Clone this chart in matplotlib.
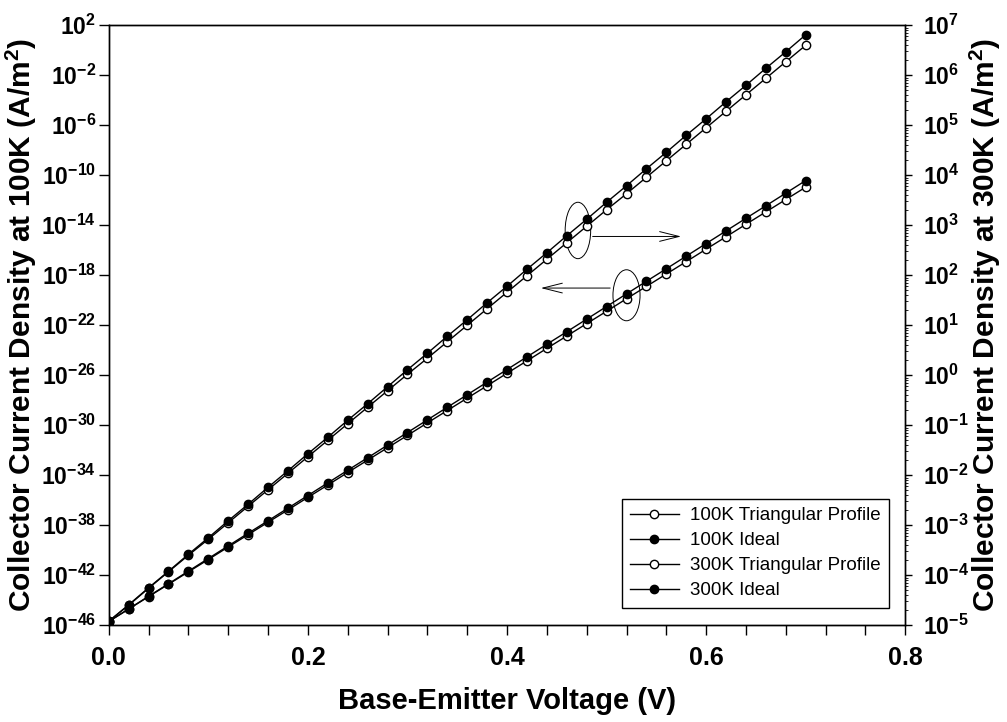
import numpy as np
import matplotlib
matplotlib.use('Agg')
import matplotlib.pyplot as plt
from matplotlib.ticker import FixedLocator, NullLocator, MultipleLocator, LogLocator, FuncFormatter
from matplotlib.patches import Ellipse

plt.rcParams['font.family'] = ['Liberation Sans', 'DejaVu Sans']
plt.rcParams['mathtext.fontset'] = 'custom'
plt.rcParams['mathtext.rm'] = 'Liberation Sans'
plt.rcParams['mathtext.bf'] = 'Liberation Sans:bold'
plt.rcParams['mathtext.it'] = 'Liberation Sans:italic'

# ---- data (base-emitter voltage, V) ----
vbe = [0.00, 0.02, 0.04, 0.06, 0.08, 0.10, 0.12, 0.14, 0.16, 0.18,
       0.20, 0.22, 0.24, 0.26, 0.28, 0.30, 0.32, 0.34, 0.36, 0.38,
       0.40, 0.42, 0.44, 0.46, 0.48, 0.50, 0.52, 0.54, 0.56, 0.58,
       0.60, 0.62, 0.64, 0.66, 0.68, 0.70]

# log10 of collector current density (A/m^2)
log_j100_tri = [-45.70, -44.71, -43.71, -42.72, -41.73, -40.74, -39.74, -38.75, -37.76, -36.77,
                -35.77, -34.78, -33.78, -32.79, -31.80, -30.81, -29.81, -28.82, -27.83, -26.84,
                -25.84, -24.85, -23.85, -22.86, -21.87, -20.88, -19.88, -18.89, -17.90, -16.91,
                -15.91, -14.92, -13.92, -12.93, -11.94, -10.95]
log_j100_ideal = [-45.70, -44.69, -43.68, -42.68, -41.67, -40.66, -39.65, -38.64, -37.64, -36.63,
                  -35.62, -34.61, -33.60, -32.60, -31.59, -30.58, -29.57, -28.56, -27.56, -26.55,
                  -25.54, -24.53, -23.52, -22.52, -21.51, -20.50, -19.49, -18.48, -17.48, -16.47,
                  -15.46, -14.45, -13.44, -12.44, -11.43, -10.42]
log_j300_tri = [-4.92, -4.60, -4.26, -3.93, -3.60, -3.28, -2.95, -2.62, -2.29, -1.96,
                -1.63, -1.30, -0.97, -0.64, -0.31, 0.02, 0.34, 0.67, 1.00, 1.33,
                1.66, 1.99, 2.32, 2.65, 2.98, 3.31, 3.63, 3.96, 4.29, 4.62,
                4.95, 5.28, 5.61, 5.94, 6.27, 6.60]
log_j300_ideal = [-4.92, -4.59, -4.25, -3.92, -3.58, -3.25, -2.91, -2.58, -2.24, -1.91,
                  -1.57, -1.24, -0.90, -0.57, -0.23, 0.11, 0.44, 0.78, 1.11, 1.45,
                  1.78, 2.12, 2.45, 2.79, 3.12, 3.46, 3.79, 4.13, 4.46, 4.80,
                  5.13, 5.47, 5.80, 6.14, 6.47, 6.81]

labels = ['100K Triangular Profile', '100K Ideal', '300K Triangular Profile', '300K Ideal']
left_exps = list(range(-46, 3, 4))
right_exps = list(range(-5, 8))
x_ticks = [0.0, 0.2, 0.4, 0.6, 0.8]

v = np.array(vbe)
j100_tri = 10.0 ** np.array(log_j100_tri)
j100_ideal = 10.0 ** np.array(log_j100_ideal)
j300_tri = 10.0 ** np.array(log_j300_tri)
j300_ideal = 10.0 ** np.array(log_j300_ideal)

fig = plt.figure(figsize=(10.07, 7.22), dpi=100)
ax = fig.add_axes([0.108, 0.134, 0.791, 0.831])
ax2 = ax.twinx()

ms = 6.0
lw = 1.0
open_kw = dict(color='black', lw=lw, marker='o', ms=ms, mfc='white', mec='black', mew=1.0)
fill_kw = dict(color='black', lw=lw, marker='o', ms=ms, mfc='black', mec='black', mew=1.0)

h1, = ax.plot(v, j100_tri, label=labels[0], **open_kw)
h2, = ax.plot(v, j100_ideal, label=labels[1], **fill_kw)
h3, = ax2.plot(v, j300_tri, label=labels[2], **open_kw)
h4, = ax2.plot(v, j300_ideal, label=labels[3], **fill_kw)

ax.set_yscale('log')
ax2.set_yscale('log')
ax.set_xlim(0.0, 0.8)
ax.set_ylim(10.0 ** left_exps[0], 10.0 ** left_exps[-1])
ax2.set_ylim(10.0 ** right_exps[0], 10.0 ** right_exps[-1])

def pow_fmt(val, pos):
    e = int(round(np.log10(val)))
    return r'$\mathbf{10^{%d}}$' % e

ax.yaxis.set_major_locator(FixedLocator([10.0 ** e for e in left_exps]))
ax.yaxis.set_minor_locator(NullLocator())
ax.yaxis.set_major_formatter(FuncFormatter(pow_fmt))
ax2.yaxis.set_major_locator(FixedLocator([10.0 ** e for e in right_exps]))
ax2.yaxis.set_minor_locator(LogLocator(base=10, subs=np.arange(2, 10), numticks=100))
ax2.yaxis.set_major_formatter(FuncFormatter(pow_fmt))
ax2.yaxis.set_minor_formatter(FuncFormatter(lambda v_, p: ''))

ax.xaxis.set_major_locator(FixedLocator(x_ticks))
ax.xaxis.set_minor_locator(MultipleLocator(0.04))
ax.set_xticklabels(['%.1f' % t for t in x_ticks], fontsize=18, fontweight='bold')

ax.tick_params(axis='x', which='both', direction='out', length=7, width=1, pad=8, top=False)
ax.tick_params(axis='y', which='major', direction='out', length=7, width=1, labelsize=16.5, pad=2)
ax2.tick_params(axis='y', which='major', direction='out', length=5, width=1, labelsize=16.5, pad=8)
ax2.tick_params(axis='y', which='minor', direction='out', length=2.5, width=0.6)

for a in (ax, ax2):
    for s in a.spines.values():
        s.set_linewidth(1.0)
        s.set_color('black')

ax.set_xlabel('Base-Emitter Voltage (V)', fontsize=21, fontweight='bold', labelpad=12)
ax.set_ylabel(r'Collector Current Density at 100K (A/m$^\mathbf{2}$)', fontsize=21.5,
              fontweight='bold')
ax2.set_ylabel(r'Collector Current Density at 300K (A/m$^\mathbf{2}$)', fontsize=21.5,
               fontweight='bold')
ax.yaxis.set_label_coords(-0.088, 0.5)
ax2.yaxis.set_label_coords(1.078, 0.5)

# annotations: ellipses and arrows (axes-fraction coordinates)
e1 = Ellipse((0.589, 0.658), 0.032, 0.094, transform=ax.transAxes, fill=False,
             ec='black', lw=0.7)
e2 = Ellipse((0.650, 0.550), 0.034, 0.085, transform=ax.transAxes, fill=False,
             ec='black', lw=0.7)
ax2.add_patch(e1)
ax2.add_patch(e2)
ax2.annotate('', xy=(0.722, 0.648), xytext=(0.604, 0.648), xycoords='axes fraction',
             arrowprops=dict(arrowstyle='->,head_length=1.4,head_width=0.35', lw=0.7, color='black'))
ax2.annotate('', xy=(0.539, 0.562), xytext=(0.633, 0.562), xycoords='axes fraction',
             arrowprops=dict(arrowstyle='->,head_length=1.4,head_width=0.35', lw=0.7, color='black'))

leg = ax2.legend([h1, h2, h3, h4], labels, loc='lower right',
                 bbox_to_anchor=(0.883, 0.158), bbox_transform=fig.transFigure,
                 borderaxespad=0, fontsize=13.5, fancybox=False, framealpha=1,
                 edgecolor='black', handlelength=2.6, numpoints=1, labelspacing=0.42,
                 borderpad=0.45, handletextpad=0.6)
leg.get_frame().set_linewidth(1.0)

fig.savefig('out.png', dpi=100)
